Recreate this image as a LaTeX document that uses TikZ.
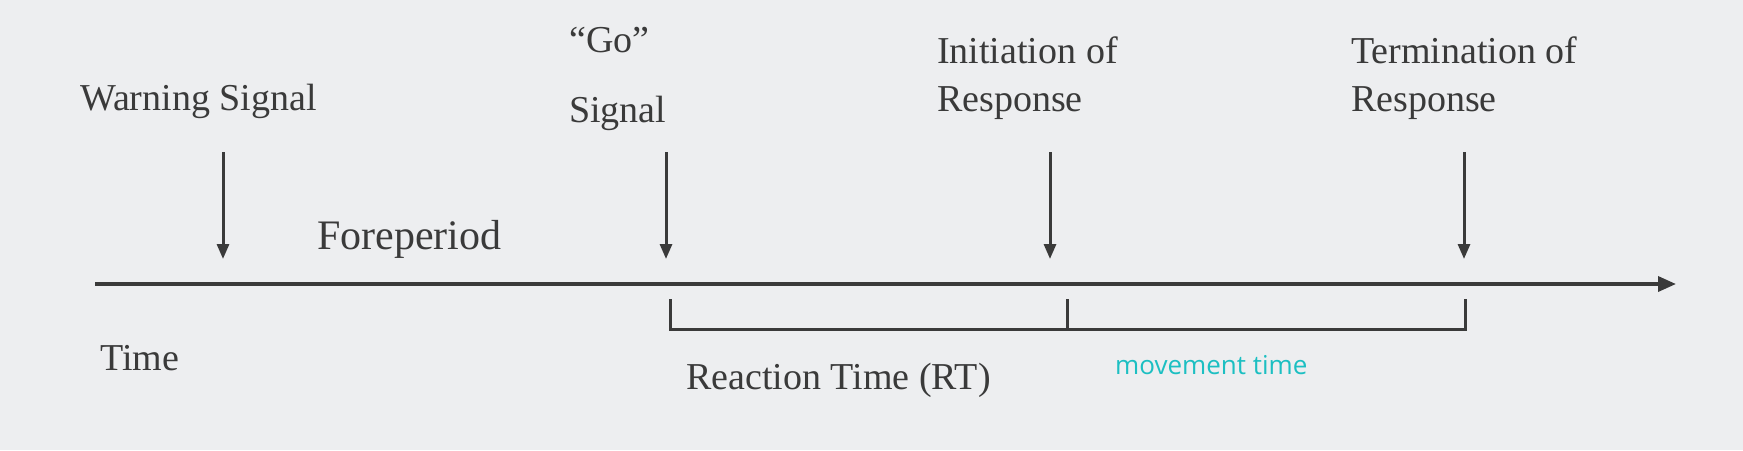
\documentclass[tikz,border=0pt]{standalone}
\usepackage{fontspec}
\setmainfont{Liberation Serif}
\newfontfamily\handfont{Open Sans}
\usetikzlibrary{arrows.meta}
\definecolor{bgc}{HTML}{EDEEF0}
\definecolor{ink}{HTML}{3A3A3A}
\definecolor{hand}{HTML}{1CBFC2}
\tikzset{
  lbl/.style={anchor=base west, inner sep=0pt, text=ink, font=\fontsize{38}{44}\selectfont},
  biglbl/.style={lbl, font=\fontsize{42}{48}\selectfont},
  evarrow/.style={draw=ink, line width=3pt, -{Triangle[length=15pt,width=12pt]}},
  axisline/.style={draw=ink, line width=3.5pt, -{Triangle[length=18pt,width=15pt]}},
  bracket/.style={draw=ink, line width=3pt, line join=miter},
}
\begin{document}
\begin{tikzpicture}[x=1pt,y=-1pt]
\fill[bgc] (0,0) rectangle (1743,450);
\useasboundingbox (0,0) rectangle (1743,450);

% labels
\node[lbl] (warn) at (80,110) {Warning Signal};
\node[lbl] (go1) at (569,52) {“Go”};
\node[lbl] (go2) at (569,122) {Signal};
\node[lbl] (init1) at (937,63) {Initiation of};
\node[lbl] (init2) at (937,111) {Response};
\node[lbl] (term1) at (1351,63) {Termination of};
\node[lbl] (term2) at (1351,111) {Response};
\node[biglbl] (fore) at (317,249) {Foreperiod};
\node[lbl] (time) at (100,370) {Time};
\node[lbl] (rt) at (686,389) {Reaction Time (RT)};
\node[anchor=base west, inner sep=0pt, text=hand, font=\handfont\fontsize{26}{30}\selectfont] (mt) at (1115,374) {movement time};

% axis
\coordinate (ax0) at (95,284);
\coordinate (ax1) at (1676,284);
\draw[axisline] (ax0) -- (ax1);

% event arrows
\coordinate (wa) at (223,152); \coordinate (wb) at (223,259);
\coordinate (ga) at (666,152); \coordinate (gb) at (666,259);
\coordinate (ia) at (1050,152); \coordinate (ib) at (1050,259);
\coordinate (ta) at (1464,152); \coordinate (tb) at (1464,259);
\draw[evarrow] (wa) -- (wb);
\draw[evarrow] (ga) -- (gb);
\draw[evarrow] (ia) -- (ib);
\draw[evarrow] (ta) -- (tb);

% brackets
\coordinate (b1t) at (670,299); \coordinate (b1b) at (670,329);
\coordinate (b2t) at (1067,299); \coordinate (b2b) at (1067,329);
\coordinate (b3t) at (1465,299); \coordinate (b3b) at (1465,329);
\draw[bracket] (b1t) -- (b1b) -- (b3b) -- (b3t);
\draw[bracket] (b2t) -- (b2b);
\end{tikzpicture}
\end{document}
